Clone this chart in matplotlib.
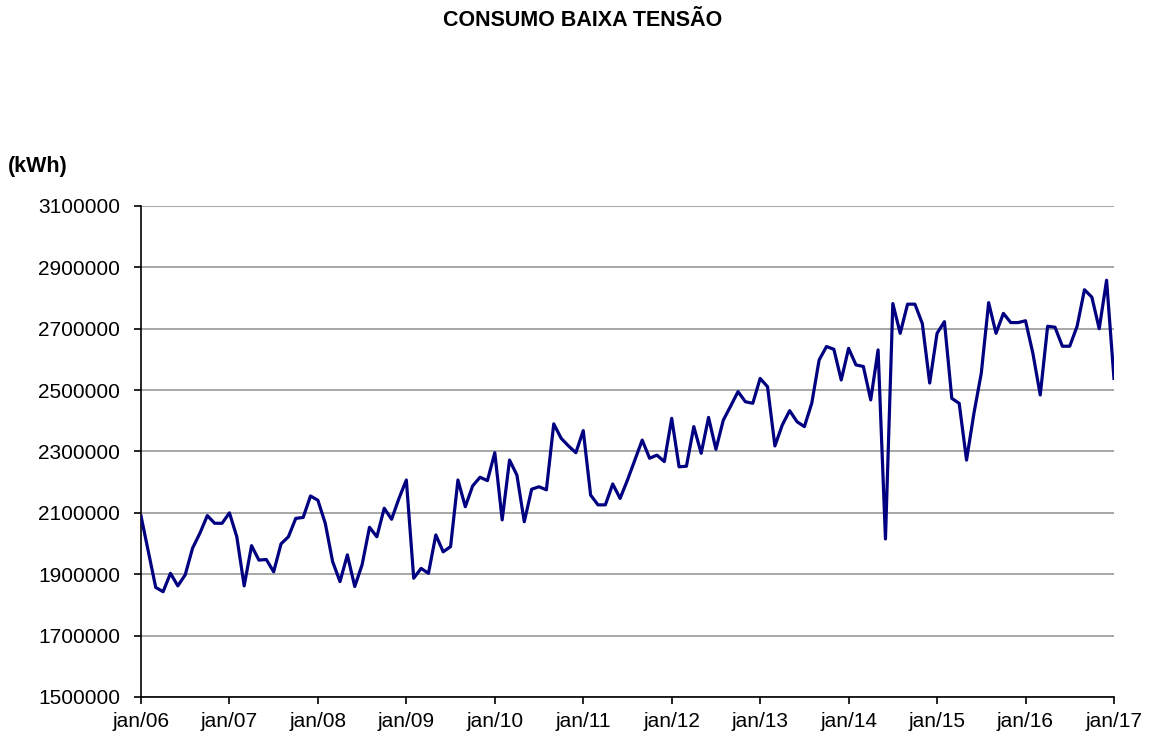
import matplotlib.pyplot as plt
import numpy as np

plt.rcParams['font.family'] = ['Liberation Sans', 'DejaVu Sans']

# monthly consumption, jan/06 .. jan/17 (kWh)
consumo = [
    2090000, 1973000, 1857000, 1843000, 1903000, 1862000, 1898000, 1985000, 2034000, 2091000, 2066000, 2066000,
    2100000, 2022000, 1862000, 1993000, 1946000, 1948000, 1908000, 1999000, 2022000, 2082000, 2085000, 2155000,
    2141000, 2066000, 1941000, 1876000, 1963000, 1860000, 1931000, 2053000, 2022000, 2115000, 2079000, 2147000,
    2207000, 1887000, 1919000, 1903000, 2028000, 1973000, 1990000, 2207000, 2120000, 2188000, 2216000, 2205000,
    2296000, 2077000, 2272000, 2223000, 2071000, 2177000, 2185000, 2175000, 2390000, 2343000, 2318000, 2296000,
    2368000, 2158000, 2126000, 2126000, 2194000, 2147000, 2207000, 2272000, 2337000, 2278000, 2288000, 2267000,
    2408000, 2250000, 2252000, 2381000, 2294000, 2411000, 2307000, 2402000, 2448000, 2495000, 2462000, 2457000,
    2538000, 2511000, 2318000, 2386000, 2433000, 2397000, 2381000, 2457000, 2598000, 2642000, 2633000, 2533000,
    2636000, 2582000, 2577000, 2468000, 2631000, 2015000, 2782000, 2685000, 2780000, 2780000, 2717000, 2523000,
    2685000, 2723000, 2473000, 2457000, 2272000, 2424000, 2555000, 2785000, 2685000, 2750000, 2720000, 2720000,
    2726000, 2620000, 2484000, 2708000, 2705000, 2643000, 2643000, 2708000, 2827000, 2803000, 2700000, 2858000,
    2538000,
]
anos = ['jan/06', 'jan/07', 'jan/08', 'jan/09', 'jan/10', 'jan/11',
        'jan/12', 'jan/13', 'jan/14', 'jan/15', 'jan/16', 'jan/17']
y_ticks = [1500000, 1700000, 1900000, 2100000, 2300000, 2500000, 2700000, 2900000, 3100000]


def draw_chart():
    fig = plt.figure(figsize=(11.49, 7.38), dpi=100)
    ax = fig.add_axes([0.1227, 0.0556, 0.8468, 0.6653])

    meses = np.arange(len(consumo))
    ax.plot(meses, consumo, color='#000080', linewidth=2.3, zorder=3)

    ax.set_xlim(0, len(consumo) - 1)
    ax.set_ylim(y_ticks[0], y_ticks[-1])
    ax.set_yticks(y_ticks)
    ax.set_yticklabels([str(v) for v in y_ticks], fontsize=15)
    ax.set_xticks(np.arange(0, len(consumo), 12))
    ax.set_xticklabels(anos, fontsize=15)

    ax.grid(axis='y', color='#a0a0a0', linewidth=1.3)
    ax.set_axisbelow(True)
    for side in ['top', 'right']:
        ax.spines[side].set_visible(False)
    for side in ['left', 'bottom']:
        ax.spines[side].set_color('black')
        ax.spines[side].set_linewidth(1.2)
    ax.tick_params(axis='both', direction='out', length=5, width=1.2)
    ax.tick_params(axis='y', pad=10)
    ax.tick_params(axis='x', pad=6)

    fig.text(0.507, 0.972, 'CONSUMO BAIXA TENSÃO', ha='center', va='center',
             fontsize=15.5, fontweight='bold')
    fig.text(0.007, 0.775, '(kWh)', ha='left', va='center',
             fontsize=15.5, fontweight='bold')

    fig.savefig('out.png', dpi=100)


draw_chart()
